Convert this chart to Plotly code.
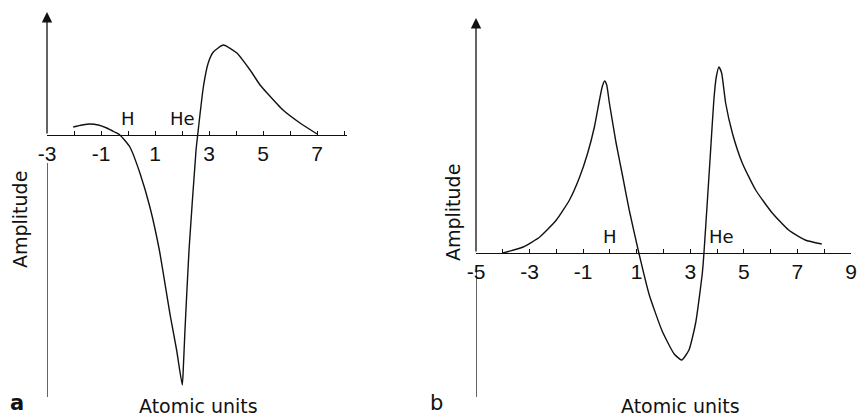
import plotly.graph_objects as go

# ---- panel a data (atomic units vs amplitude, arbitrary units) ----
a_x = [-2.03, -1.7, -1.41, -1.1, -0.79, -0.5, -0.3, 0.07, 0.44, 0.81, 1.16, 1.56, 1.80, 2.01,
       2.05, 2.11, 2.26, 2.52, 2.58, 2.79, 2.97, 3.16, 3.53, 4.03, 4.52, 4.89, 5.15,
       5.74, 6.37, 7.0]
a_amp = [0.08, 0.10, 0.11, 0.10, 0.07, 0.03, 0.0, -0.12, -0.38, -0.72, -1.15, -1.80, -2.15, -2.50,
         -2.32, -1.95, -1.15, -0.15, 0.0, 0.48, 0.72, 0.83, 0.90, 0.82, 0.65, 0.50, 0.42,
         0.25, 0.12, 0.01]

# ---- panel b data ----
b_x = [-3.99, -3.24, -2.62, -2.0, -1.51, -1.13, -0.83, -0.58, -0.39, -0.29, -0.2, -0.12,
       -0.02, 0.23, 0.48, 0.72, 1.08, 1.47, 1.95, 2.4, 2.68, 2.95, 3.20, 3.45, 3.51, 3.64,
       3.76, 3.88, 3.97, 4.07, 4.17, 4.32, 4.57, 4.94, 5.44, 6.06, 6.67, 7.29, 7.91]
b_amp = [0.0, 0.06, 0.16, 0.33, 0.53, 0.76, 1.00, 1.26, 1.53, 1.66, 1.72, 1.68,
         1.50, 1.10, 0.76, 0.43, 0.0, -0.42, -0.78, -1.01, -1.07, -0.97, -0.70, -0.20, 0.0, 0.53,
         1.03, 1.53, 1.76, 1.86, 1.80, 1.50, 1.20, 0.90, 0.63, 0.40, 0.23, 0.13, 0.09]

a_tickvals = [-3, -1, 1, 3, 5, 7]
a_ticktext = ["-3", "-1", "1", "3", "5", "7"]
b_tickvals = [-5, -3, -1, 1, 3, 5, 7, 9]
b_ticktext = ["-5", "-3", "-1", "1", "3", "5", "7", "9"]

atom_labels = ["H", "He"]
a_atom_x = [0.0, 2.0]
b_atom_x = [0.0, 4.15]

W, H = 857, 417
BLACK = "#111111"
TICKFONT = dict(family="Liberation Sans, Arial, sans-serif", size=21, color=BLACK)
TEXTFONT = dict(family="DejaVu Sans, sans-serif", size=19, color=BLACK)


def px(v):
    return v / W


def py(v):
    return (H - v) / H


fig = go.Figure()
fig.add_trace(go.Scatter(x=a_x, y=a_amp, mode="lines", xaxis="x", yaxis="y",
                         line=dict(color=BLACK, width=1.4, shape="spline", smoothing=0.5),
                         showlegend=False, hoverinfo="skip"))
fig.add_trace(go.Scatter(x=b_x, y=b_amp, mode="lines", xaxis="x2", yaxis="y2",
                         line=dict(color=BLACK, width=1.4, shape="spline", smoothing=0.5),
                         showlegend=False, hoverinfo="skip"))

common_x = dict(showline=True, linecolor=BLACK, linewidth=1.3, showgrid=False, zeroline=False,
                ticks="inside", ticklen=4, tickcolor=BLACK, tickwidth=1, tickfont=TICKFONT,
                anchor="free", fixedrange=True, ticklabeloverflow="allow")
common_y = dict(visible=False, showgrid=False, zeroline=False, fixedrange=True,
                domain=[py(400), py(10)])

fig.update_layout(
    width=W, height=H, margin=dict(l=0, r=0, t=0, b=0, autoexpand=False),
    paper_bgcolor="white", plot_bgcolor="white",
    xaxis=dict(domain=[px(47), px(347)], range=[-3, 8.11], position=py(135),
               tickmode="array", tickvals=a_tickvals, ticktext=a_ticktext,
               minor=dict(tick0=-3, dtick=1, ticks="inside", ticklen=4, tickcolor=BLACK),
               **common_x),
    yaxis=dict(range=[-2.65, 1.25], **common_y),
    xaxis2=dict(domain=[px(476), px(851)], range=[-5, 9.0], position=py(253),
                tickmode="array", tickvals=b_tickvals, ticktext=b_ticktext,
                minor=dict(tick0=-5, dtick=1, ticks="inside", ticklen=4, tickcolor=BLACK),
                **common_x),
    yaxis2=dict(range=[-1.47, 2.43], **common_y),
)

# vertical axes (upper arrow part + lower segment below the tick labels)
for xr, yr, x0, top, low0, low1 in [("x", "y", -3, 1.23, -0.28, -2.62),
                                    ("x2", "y2", -5, 2.35, -0.14, -1.44)]:
    fig.add_annotation(x=x0, y=top, ax=x0, ay=0, xref=xr, yref=yr, axref=xr, ayref=yr,
                       showarrow=True, arrowhead=2, arrowsize=1.6, arrowwidth=1.3,
                       arrowcolor=BLACK, text="")
    fig.add_shape(type="line", xref=xr, yref=yr, x0=x0, x1=x0, y0=low0, y1=low1,
                  line=dict(color=BLACK, width=1.3))

for lab, ax_, bx_ in zip(atom_labels, a_atom_x, b_atom_x):
    for xr, yr, xv in [("x", "y", ax_), ("x2", "y2", bx_)]:
        fig.add_annotation(x=xv, y=0.0, xref=xr, yref=yr, text=lab, showarrow=False,
                           xanchor="center", yanchor="bottom", yshift=4,
                           font=dict(family=TEXTFONT["family"], size=18, color=BLACK))

# axis titles
for xc, yc in [(20, 220), (453, 213)]:
    fig.add_annotation(x=px(xc), y=py(yc), xref="paper", yref="paper", text="Amplitude",
                       textangle=-90, showarrow=False, xanchor="center", yanchor="middle",
                       font=TEXTFONT)
for xc in [198, 680]:
    fig.add_annotation(x=px(xc), y=py(406), xref="paper", yref="paper", text="Atomic units",
                       showarrow=False, xanchor="center", yanchor="middle", font=TEXTFONT)

fig.add_annotation(x=px(17), y=py(403), xref="paper", yref="paper", text="<b>a</b>",
                   showarrow=False, xanchor="center", yanchor="middle",
                   font=dict(family="DejaVu Sans, sans-serif", size=21, color=BLACK))
fig.add_annotation(x=px(436), y=py(403), xref="paper", yref="paper", text="b",
                   showarrow=False, xanchor="center", yanchor="middle",
                   font=dict(family="DejaVu Sans, sans-serif", size=21, color=BLACK))

fig.write_html("out.html", config={"displayModeBar": False},
               post_script="document.body.style.margin='0';")
